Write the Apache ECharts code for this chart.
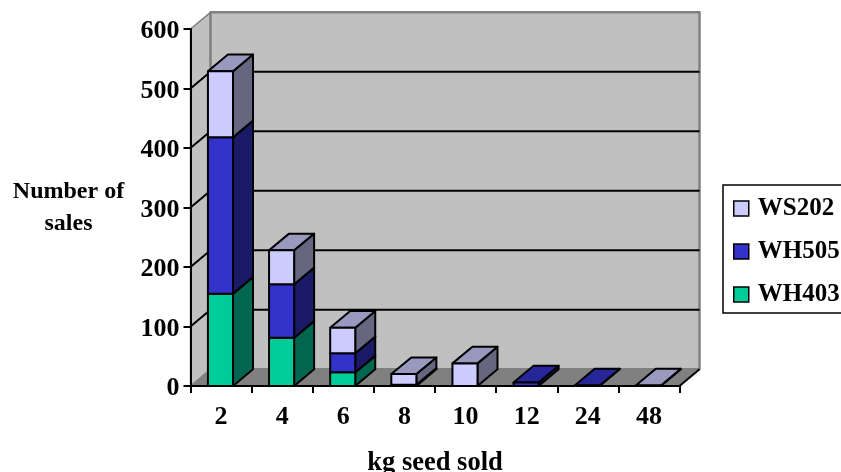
<!DOCTYPE html>
<html>
<head>
<meta charset="utf-8">
<style>
    html, body { margin: 0; padding: 0; background: #fff; }
    #chart { width: 841px; height: 472px; }
</style>
<script src="https://cdn.jsdelivr.net/npm/echarts@6/dist/echarts.min.js"></script>
</head>
<body>
<div id="chart"></div>
<script>
    const categories = ['2', '4', '6', '8', '10', '12', '24', '48'];
    const wh403 = [155, 81, 23, 0, 0, 0, 0, 0];
    const wh505 = [263, 90, 32, 2, 0, 6, 1, 0];
    const ws202 = [111, 57, 43, 18, 38, 0, 0, 1];
    const yTicks = [0, 100, 200, 300, 400, 500, 600];

    const FONT = '"Liberation Serif", "Times New Roman", serif';
    // fake 3d: how far the back of the plot sits from the front
    const depthX = 20;
    const depthY = 16.7;

    function poly(points, fill, stroke, width) {
        return {
            type: 'polygon',
            shape: { points: points },
            style: { fill: fill, stroke: stroke, lineWidth: width, lineJoin: 'round' }
        };
    }

    function line(points, stroke, width) {
        return {
            type: 'polyline',
            shape: { points: points },
            style: { fill: null, stroke: stroke, lineWidth: width }
        };
    }

    function renderWalls(params, api) {
        const box = params.coordSys;
        const left = box.x, right = box.x + box.width;
        const top = box.y, bottom = box.y + box.height;
        const children = [
            poly([[left, bottom], [left, top], [left + depthX, top - depthY], [left + depthX, bottom - depthY]], '#c0c0c0', '#808080', 1.5),
            poly([[left + depthX, top - depthY], [right + depthX, top - depthY], [right + depthX, bottom - depthY], [left + depthX, bottom - depthY]], '#c0c0c0', '#808080', 2.5),
            poly([[left, bottom], [left + depthX, bottom - depthY], [right + depthX, bottom - depthY], [right, bottom]], '#808080', '#808080', 1)
        ];
        yTicks.slice(1, -1).forEach(function (t) {
            const y = api.coord([0, t])[1];
            children.push(line([[left, y], [left + depthX, y - depthY], [right + depthX, y - depthY]], '#000', 2));
        });
        children.push(line([[right, bottom], [right + depthX, bottom - depthY]], '#000', 2));
        return { type: 'group', children: children };
    }

    function makeRender(front, side, topFace) {
        return function (params, api) {
            const i = api.value(0);
            if (api.value(2) === api.value(1)) return null;
            const base = api.coord([i, api.value(1)]);
            const head = api.coord([i, api.value(2)]);
            const w = api.size([1, 0])[0] * 0.41;
            const x0 = base[0] - w / 2 - 0.6, x1 = x0 + w;
            const y0 = base[1], y1 = head[1];
            const st = '#000', lw = 2;
            return {
                type: 'group',
                children: [
                    poly([[x1, y0], [x1 + depthX, y0 - depthY], [x1 + depthX, y1 - depthY], [x1, y1]], side, st, lw),
                    poly([[x0, y1], [x1, y1], [x1 + depthX, y1 - depthY], [x0 + depthX, y1 - depthY]], topFace, st, lw),
                    poly([[x0, y0], [x1, y0], [x1, y1], [x0, y1]], front, st, lw)
                ]
            };
        };
    }

    // stack the three products, lowest first
    const base505 = wh403;
    const base202 = wh403.map(function (v, i) { return v + wh505[i]; });
    const data403 = categories.map(function (c, i) { return [i, 0, wh403[i]]; });
    const data505 = categories.map(function (c, i) { return [i, base505[i], base505[i] + wh505[i]]; });
    const data202 = categories.map(function (c, i) { return [i, base202[i], base202[i] + ws202[i]]; });

    const chart = echarts.init(document.getElementById('chart'), null, { renderer: 'canvas' });
    chart.setOption({
        animation: false,
        backgroundColor: '#fff',
        textStyle: { fontFamily: FONT },
        grid: { left: 190.5, right: 161.5, top: 29, bottom: 86, outerBoundsMode: 'none' },
        legend: {
            left: 723,
            top: 185,
            orient: 'vertical',
            data: ['WS202', 'WH505', 'WH403'],
            icon: 'rect',
            itemWidth: 15,
            itemHeight: 15,
            itemGap: 18,
            padding: [11, 4, 6, 10],
            borderColor: '#000',
            borderWidth: 1.5,
            selectedMode: false,
            itemStyle: { borderColor: '#000', borderWidth: 1.5 },
            textStyle: { fontFamily: FONT, fontWeight: 'bold', fontSize: 25, color: '#000', lineHeight: 24, padding: [0, 0, 0, 4] }
        },
        xAxis: {
            type: 'category',
            data: categories,
            z: 5,
            name: 'kg seed sold',
            nameLocation: 'middle',
            nameGap: 64,
            nameTextStyle: { fontFamily: FONT, fontWeight: 'bold', fontSize: 26.5, color: '#000' },
            axisLine: { lineStyle: { color: '#000', width: 2 } },
            axisTick: { show: true, alignWithLabel: false, length: 7, lineStyle: { color: '#000', width: 2 } },
            axisLabel: { fontFamily: FONT, fontWeight: 'bold', fontSize: 26, color: '#000', margin: 18, interval: 0 }
        },
        yAxis: {
            type: 'value',
            min: 0,
            max: 600,
            interval: 100,
            z: 5,
            name: 'Number of\nsales',
            nameLocation: 'middle',
            nameRotate: 0,
            nameGap: 122,
            nameTextStyle: { fontFamily: FONT, fontWeight: 'bold', fontSize: 24, color: '#000', align: 'center', lineHeight: 32 },
            axisLine: { show: true, lineStyle: { color: '#000', width: 2 } },
            axisTick: { show: true, length: 7, lineStyle: { color: '#000', width: 2 } },
            axisLabel: {
                margin: 11,
                formatter: '{a|{value}}',
                rich: { a: { fontFamily: FONT, fontWeight: 'bold', fontSize: 26, color: '#000', padding: [5, 0, 0, 0] } }
            },
            splitLine: { show: false }
        },
        series: [
            { type: 'custom', name: 'walls', data: [[0, 0, 0]], renderItem: renderWalls, z: 1, silent: true },
            { type: 'custom', name: 'WH403', data: data403, renderItem: makeRender('#00cc99', '#006650', '#009973'), itemStyle: { color: '#00cc99' }, encode: { x: 0, y: 2 }, z: 3 },
            { type: 'custom', name: 'WH505', data: data505, renderItem: makeRender('#3333cc', '#1a1a66', '#262699'), itemStyle: { color: '#3333cc' }, encode: { x: 0, y: 2 }, z: 3 },
            { type: 'custom', name: 'WS202', data: data202, renderItem: makeRender('#ccccff', '#666680', '#9999bf'), itemStyle: { color: '#ccccff' }, encode: { x: 0, y: 2 }, z: 3 }
        ]
    });
</script>
</body>
</html>
